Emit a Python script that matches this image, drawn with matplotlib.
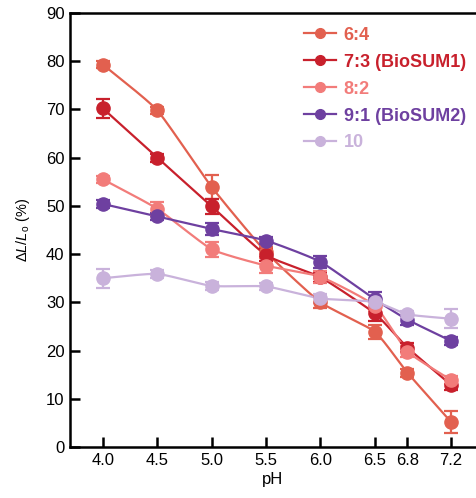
import numpy as np
import matplotlib
matplotlib.use("Agg")
import matplotlib.pyplot as plt

plt.rcParams['font.family'] = ['Liberation Sans', 'DejaVu Sans']
plt.rcParams['mathtext.fontset'] = 'custom'
plt.rcParams['mathtext.rm'] = 'Liberation Sans'
plt.rcParams['mathtext.it'] = 'Liberation Sans:italic'

ph = [4.0, 4.5, 5.0, 5.5, 6.0, 6.5, 6.8, 7.2]
tick_labels = ["4.0", "4.5", "5.0", "5.5", "6.0", "6.5", "6.8", "7.2"]

labels = ["6:4", "7:3 (BioSUM1)", "8:2", "9:1 (BioSUM2)", "10"]
colors = ["#E2604F", "#C8202C", "#F27C7A", "#6E40A0", "#C9B2DB"]

s64 = [79.3, 69.8, 53.9, 40.4, 30.0, 23.9, 15.4, 5.2]
s73 = [70.2, 60.0, 49.9, 39.8, 35.2, 27.7, 20.6, 12.9]
s82 = [55.5, 49.4, 41.0, 37.6, 35.3, 29.3, 19.8, 13.9]
s91 = [50.4, 47.8, 45.2, 42.8, 38.4, 30.6, 26.4, 22.0]
s10 = [35.0, 35.9, 33.4, 33.3, 30.8, 30.1, 27.5, 26.6]

e64 = [0.8, 0.8, 2.5, 1.0, 1.2, 1.5, 0.8, 2.2]
e73 = [2.0, 0.8, 1.5, 1.2, 1.0, 1.5, 1.0, 1.0]
e82 = [0.8, 1.5, 1.5, 1.5, 1.2, 1.0, 1.2, 0.8]
e91 = [0.8, 0.8, 1.2, 0.8, 1.2, 1.5, 1.0, 0.8]
e10 = [2.0, 0.8, 0.8, 0.8, 1.0, 0.8, 0.8, 2.0]

series = [s64, s73, s82, s91, s10]
errors = [e64, e73, e82, e91, e10]


def smooth(x, y, n=30, k=0.25):
    # cardinal-spline curve through the data points (display smoothing only)
    x = np.asarray(x, float); y = np.asarray(y, float)
    px = np.concatenate([[2 * x[0] - x[1]], x, [2 * x[-1] - x[-2]]])
    py = np.concatenate([[2 * y[0] - y[1]], y, [2 * y[-1] - y[-2]]])
    xs, ys = [], []
    t = np.linspace(0, 1, n)[:, None]
    h00 = 2 * t ** 3 - 3 * t ** 2 + 1
    h10 = t ** 3 - 2 * t ** 2 + t
    h01 = -2 * t ** 3 + 3 * t ** 2
    h11 = t ** 3 - t ** 2
    for i in range(1, len(px) - 2):
        p0, p1, p2, p3 = [np.array([px[j], py[j]]) for j in range(i - 1, i + 3)]
        m1 = k * (p2 - p0)
        m2 = k * (p3 - p1)
        pts = h00 * p1 + h10 * m1 + h01 * p2 + h11 * m2
        xs.extend(pts[:, 0]); ys.extend(pts[:, 1])
    return xs, ys


fig = plt.figure(figsize=(4.76, 4.98), dpi=100)
ax = fig.add_axes([70 / 476, 1 - 447 / 498, (476 - 70) / 476, (447 - 13) / 498])

handles = []
for y, e, c, lab in zip(series, errors, colors, labels):
    sx, sy = smooth(ph, y)
    ax.plot(sx, sy, color=c, lw=1.6, zorder=2)
    ax.errorbar(ph, y, yerr=e, fmt='none', ecolor=c, elinewidth=1.6, capsize=5, capthick=1.6, zorder=3)
    ax.plot(ph, y, 'o', color=c, ms=9.5, zorder=4)
    h, = ax.plot([], [], '-o', color=c, lw=1.6, ms=7, label=lab)
    handles.append(h)

ax.set_xlim(3.697, 7.43)
ax.set_ylim(0, 90)
ax.set_xticks(ph)
ax.set_xticklabels(tick_labels)
ax.set_yticks(range(0, 91, 10))

for s in ['left', 'bottom', 'top']:
    ax.spines[s].set_linewidth(1.8)
ax.spines['right'].set_visible(False)
ax.tick_params(direction='in', length=7, width=1.8, labelsize=12, pad=4)

ax.set_xlabel('pH', fontsize=12, labelpad=3)
ax.set_ylabel(r'$\Delta L/L_{\mathrm{o}}$ (%)', fontsize=10.5, labelpad=10)

leg = ax.legend(handles=handles, loc='upper right', bbox_to_anchor=(0.993, 0.985), frameon=False,
                prop={'weight': 'bold', 'size': 13}, handlelength=1.75, handletextpad=0.45,
                labelspacing=0.55, borderaxespad=0.0)
for txt, c in zip(leg.get_texts(), colors):
    txt.set_color(c)

fig.savefig('out.png', dpi=100)
